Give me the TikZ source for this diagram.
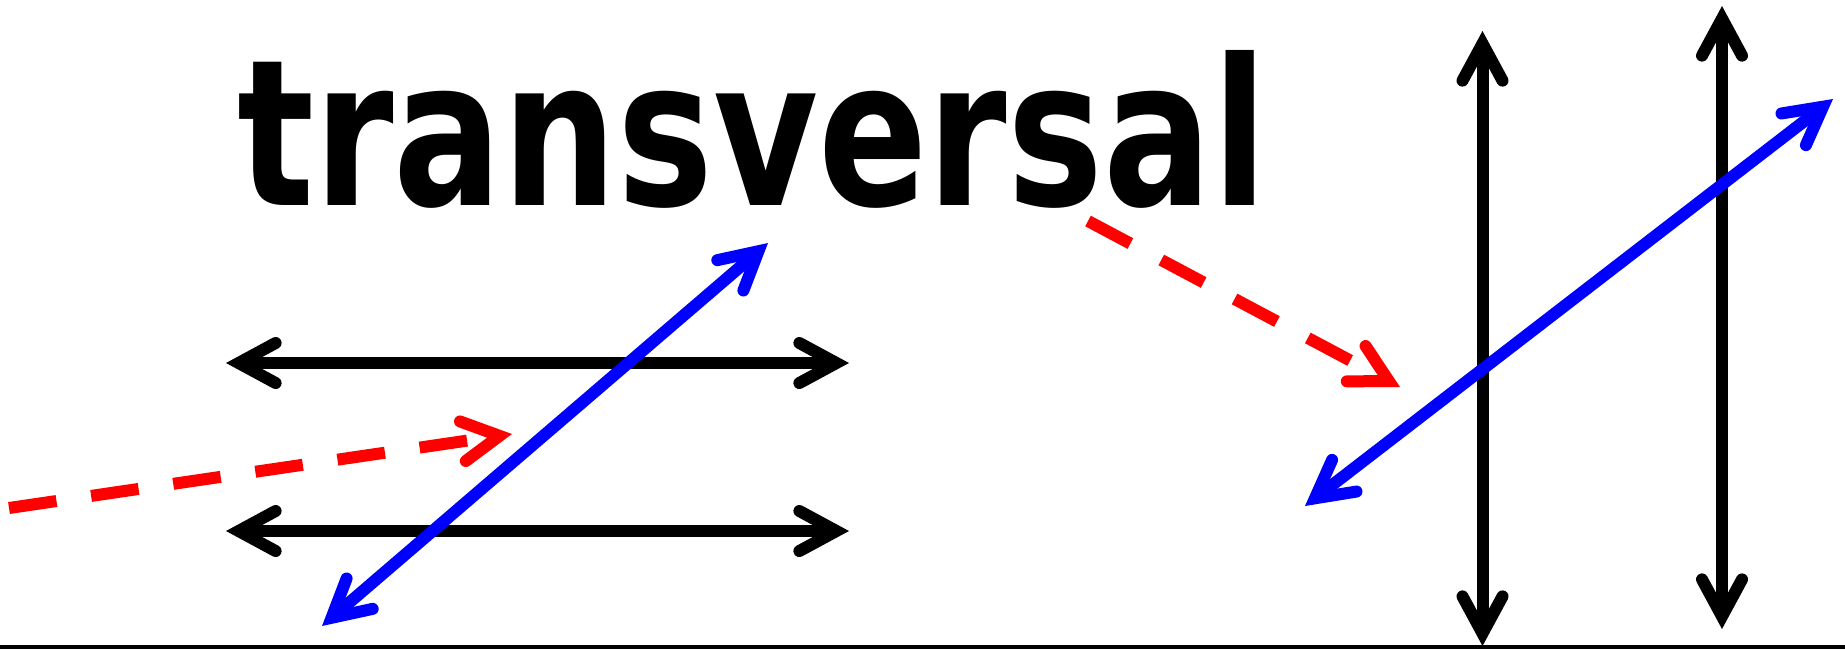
\documentclass[tikz,border=0pt]{standalone}
\usepackage{fontspec}
\usepackage{graphicx}
\usetikzlibrary{arrows.meta}
\setmainfont{DejaVu Sans}
\begin{document}
\begin{tikzpicture}[x=1pt,y=-1pt,
  >={Straight Barb[length=37pt,width=40pt,line cap=round,line join=miter]},
  ln/.style={line width=12pt},
  blk/.style={ln,draw=black,<->},
  blu/.style={ln,draw=blue,<->},
  rd/.style={ln,draw=red,->,dash pattern=on 48pt off 35pt}]
\useasboundingbox (0,0) rectangle (1845,649);
% endpoints
\coordinate (h1a) at (226,363);  \coordinate (h1b) at (849,363);
\coordinate (h2a) at (226,531);  \coordinate (h2b) at (849,531);
\coordinate (v1a) at (1482.5,31); \coordinate (v1b) at (1482.5,646);
\coordinate (v2a) at (1722,6);   \coordinate (v2b) at (1722,629);
\coordinate (b1a) at (322,626);  \coordinate (b1b) at (768,243);
\coordinate (b2a) at (1305,506); \coordinate (b2b) at (1833,99);
\coordinate (r1a) at (9,508);    \coordinate (r1b) at (512,434);
\coordinate (r2a) at (1088,221); \coordinate (r2b) at (1400,387);
\coordinate (gl) at (0,646.5);   \coordinate (gr) at (1845,646.5);
% title
\node[anchor=base west,inner sep=0pt] (title) at (237,205)
  {\resizebox{1030pt}{155pt}{\bfseries transversal}};
% parallel lines
\draw[blk] (h1a) -- (h1b);
\draw[blk] (h2a) -- (h2b);
\draw[blk] (v1a) -- (v1b);
\draw[blk] (v2a) -- (v2b);
% transversals
\draw[blu] (b1a) -- (b1b);
\draw[blu] (b2a) -- (b2b);
% pointers
\draw[rd] (r1a) -- (r1b);
\draw[rd] (r2a) -- (r2b);
% ground line
\draw[line width=4pt] (gl) -- (gr);
\end{tikzpicture}
\end{document}
